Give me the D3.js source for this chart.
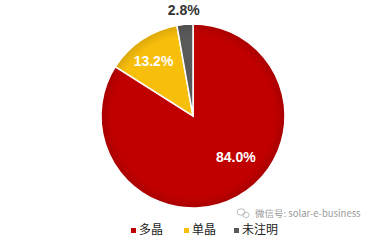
<!DOCTYPE html>
<html>
<head>
<meta charset="utf-8">
<script src="https://cdn.jsdelivr.net/npm/d3@7"></script>
<style>
  html, body { margin: 0; padding: 0; background: #fff; }
  svg { display: block; }
</style>
</head>
<body>
<svg id="chart" width="385" height="240"></svg>
<script>
const categories = ["多晶", "单晶", "未注明"];
const shares = [84.0, 13.2, 2.8];
const labels = ["84.0%", "13.2%", "2.8%"];
const colors = ["#C00000", "#F8BE0C", "#595959"];

const width = 385, height = 240;
const cx = 193, cy = 116, radius = 92;

// Label placement: radius and small pixel nudge per slice
const labelRadius = [62, 62, 106];
const labelNudge = [[13, -13], [-5, -3], [0, 0]];

const svg = d3.select("#chart");

const defs = svg.append("defs");
colors.forEach((c, i) => {
  const grad = defs.append("radialGradient")
    .attr("id", "shade" + i)
    .attr("gradientUnits", "userSpaceOnUse")
    .attr("cx", 0).attr("cy", 0).attr("r", radius);
  grad.append("stop").attr("offset", "0%").attr("stop-color", c);
  grad.append("stop").attr("offset", "88%").attr("stop-color", c);
  grad.append("stop").attr("offset", "100%").attr("stop-color", d3.color(c).darker(0.35));
});

const pie = d3.pie().sort(null).value(d => d)(shares);
const arc = d3.arc().innerRadius(0).outerRadius(radius);

const g = svg.append("g").attr("transform", `translate(${cx},${cy})`);

g.selectAll("path.slice")
  .data(pie)
  .join("path")
  .attr("class", "slice")
  .attr("d", arc)
  .attr("fill", (d, i) => `url(#shade${i})`)
  .attr("stroke", "#fff")
  .attr("stroke-width", 1.5);

// Data labels: inside for the large slices, outside for the small one
g.selectAll("text.val")
  .data(pie)
  .join("text")
  .attr("class", "val")
  .attr("transform", (d, i) => {
    const r = labelRadius[i];
    const [x, y] = d3.arc().innerRadius(r).outerRadius(r).centroid(d);
    return `translate(${x + labelNudge[i][0]},${y + labelNudge[i][1]})`;
  })
  .attr("text-anchor", "middle")
  .attr("dy", "0.35em")
  .attr("font-family", "Arial, 'Liberation Sans', sans-serif")
  .attr("font-weight", "bold")
  .attr("font-size", 14)
  .attr("fill", (d, i) => i === 2 ? "#333" : "#fff")
  .text((d, i) => labels[i]);

// Legend
const legendX = [131, 184, 234];
const legend = svg.append("g").attr("transform", "translate(0,230)");
const items = legend.selectAll("g.item")
  .data(categories)
  .join("g")
  .attr("class", "item")
  .attr("transform", (d, i) => `translate(${legendX[i]},0)`);
items.append("rect")
  .attr("x", 0).attr("y", -2)
  .attr("width", 5).attr("height", 5)
  .attr("fill", (d, i) => colors[i]);
items.append("text")
  .attr("x", 8).attr("y", 0)
  .attr("dy", "0.35em")
  .attr("font-family", "'Noto Sans CJK SC', sans-serif")
  .attr("font-size", 12)
  .attr("fill", "#222")
  .text(d => d);

// Account caption in the lower right, with a small chat-bubble icon
const cap = svg.append("g");
cap.append("ellipse").attr("cx", 241).attr("cy", 212).attr("rx", 4).attr("ry", 3.2)
  .attr("fill", "none").attr("stroke", "#b0b0b0").attr("stroke-width", 0.8);
cap.append("ellipse").attr("cx", 246).attr("cy", 215).attr("rx", 3.2).attr("ry", 2.6)
  .attr("fill", "none").attr("stroke", "#b0b0b0").attr("stroke-width", 0.8);
cap.append("text")
  .attr("x", 255).attr("y", 217)
  .attr("font-family", "'Noto Sans CJK SC', sans-serif")
  .attr("font-size", 9.5)
  .attr("fill", "#9a9a9a")
  .text("微信号: solar-e-business");
</script>
</body>
</html>
